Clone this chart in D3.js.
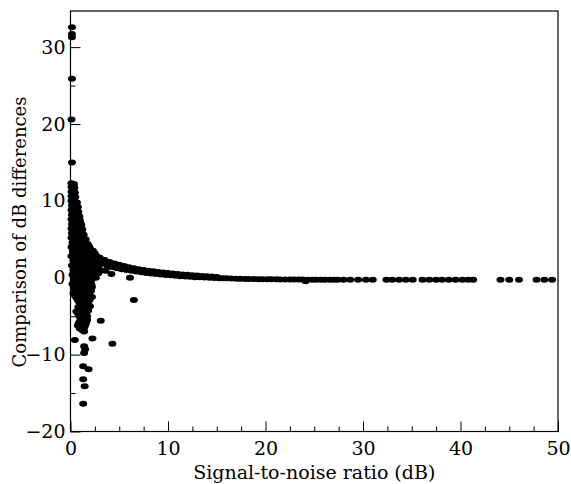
<!DOCTYPE html>
<html>
<head>
  <meta charset="utf-8">
  <title>dB differences vs SNR</title>
  <script src="https://d3js.org/d3.v7.min.js"></script>
  <style>
    body { margin: 0; background: #fff; }
    svg text { font-family: "DejaVu Serif", serif; fill: #000; }
    .axis line { stroke: #000; }
    .dot { fill: #000; }
  </style>
</head>
<body>
<script>
// values: [SNR (dB), difference (dB)]
var bandUpper = [[2.5,3.1],[3.0,2.6],[3.5,2.3],[4.0,2.05],[4.5,1.85],[5.0,1.7],[5.5,1.52],[6.0,1.38],
  [6.5,1.25],[7.0,1.12],[7.5,1.02],[8.0,0.92],[8.5,0.84],[9.0,0.76],[9.5,0.69],[10,0.62],[10.5,0.55],
  [11,0.49],[11.5,0.43],[12,0.38],[12.5,0.33],[13,0.28],[13.5,0.23],[14,0.19],[14.5,0.15],[15,0.11]];
var bandLower = [[2.75,2.2],[3.25,1.9],[3.75,1.6],[4.25,1.4],[4.75,1.25],[5.25,1.12],[5.75,1.0],[6.25,0.9],
  [6.75,0.8],[7.25,0.7],[7.75,0.62],[8.25,0.54],[8.75,0.48],[9.25,0.42],[9.75,0.36],[10.25,0.31],
  [10.75,0.26],[11.25,0.21],[11.75,0.16],[12.25,0.12],[12.75,0.08],[13.25,0.05],[13.75,0.02],
  [14.25,-0.01],[14.75,-0.04],[15.25,-0.06]];
var tail = [[15.6,-0.05],[16.0,-0.08],[16.5,-0.1],[17.0,-0.12],[17.4,-0.13],[17.9,-0.15],[18.3,-0.16],
  [18.8,-0.17],[19.3,-0.18],[19.7,-0.19],[20.2,-0.2],[20.6,-0.2],[21.1,-0.21],[21.5,-0.22],[22.0,-0.22],
  [22.5,-0.23],[22.9,-0.23],[23.4,-0.24],[23.8,-0.24],[24.1,-0.45],[24.3,-0.25],[24.8,-0.25],[25.2,-0.25],
  [25.7,-0.25],[26.1,-0.26],[26.6,-0.26],[27.0,-0.26],[27.4,-0.26],
  [28.0,-0.26],[28.7,-0.26],[29.5,-0.26],[30.3,-0.26],[31.0,-0.26],
  [32.4,-0.26],[33.0,-0.26],[33.7,-0.26],[34.4,-0.26],[35.1,-0.26],[36.1,-0.26],[36.8,-0.26],
  [37.5,-0.26],[38.1,-0.26],[38.8,-0.26],[39.5,-0.26],[40.2,-0.26],[40.8,-0.26],[41.3,-0.26],
  [44.1,-0.26],[45.0,-0.26],[46.0,-0.26],[47.8,-0.26],[48.6,-0.26],[49.4,-0.26]];
var cluster = [
  [0.1,12.3],[0.35,12.2],[0.1,11.8],[0.4,11.7],[0.1,11.2],[0.45,11.1],[0.1,10.6],[0.5,10.5],
  [0.1,10.0],[0.45,9.9],[0.65,9.8],[0.15,9.4],[0.5,9.3],[0.75,9.2],[0.1,8.8],[0.45,8.7],[0.8,8.6],
  [0.15,8.2],[0.5,8.1],[0.9,8.0],[0.1,7.6],[0.5,7.6],[0.95,7.5],
  [0.15,7.0],[0.5,7.0],[0.85,6.9],[1.1,6.9],[0.1,6.4],[0.5,6.4],[0.9,6.3],[1.2,6.3],
  [0.15,5.8],[0.55,5.8],[0.95,5.7],[1.35,5.6],[0.1,5.2],[0.5,5.2],[0.9,5.1],[1.3,5.1],[1.55,5.0],
  [0.2,4.6],[0.6,4.6],[1.0,4.5],[1.4,4.5],[1.75,4.4],
  [0.1,4.0],[0.5,4.0],[0.9,3.9],[1.3,3.9],[1.7,3.9],[2.0,3.8],
  [0.25,3.4],[0.6,3.4],[1.0,3.3],[1.4,3.3],[1.8,3.3],[2.2,3.3],[2.45,3.2],
  [0.1,2.8],[0.5,2.8],[0.9,2.7],[1.3,2.7],[1.7,2.7],[2.1,2.6],[2.5,2.6],[2.85,2.5],
  [0.3,2.2],[0.7,2.2],[1.1,2.1],[1.5,2.1],[1.9,2.1],[2.3,2.0],[2.7,1.9],
  [0.15,1.6],[0.55,1.6],[0.95,1.5],[1.35,1.5],[1.75,1.5],[2.15,1.4],[2.55,1.3],[2.9,1.3],
  [0.3,1.0],[0.7,1.0],[1.1,0.9],[1.5,0.9],[1.9,0.9],[2.3,0.8],[2.7,0.8],[3.1,0.9],
  [0.2,0.4],[0.6,0.4],[1.0,0.3],[1.4,0.3],[1.8,0.3],[2.2,0.4],[2.6,0.5],
  [0.35,-0.2],[0.75,-0.2],[1.15,-0.3],[1.55,-0.3],[1.95,-0.2],
  [0.2,-0.8],[0.6,-0.8],[1.0,-0.9],[1.4,-0.9],[1.8,-0.8],[2.15,-0.9],
  [0.4,-1.4],[0.8,-1.4],[1.2,-1.5],[1.6,-1.5],[2.0,-1.4],
  [0.3,-2.0],[0.7,-2.0],[1.1,-2.1],[1.5,-2.1],[1.9,-2.0],
  [0.6,-2.6],[1.0,-2.7],[1.4,-2.7],[1.8,-2.6],[2.2,-2.5],
  [0.9,-3.2],[1.3,-3.3],[1.7,-3.2],[0.8,-3.8],[1.2,-3.9],[1.6,-3.8],[2.0,-3.7],
  [0.6,-4.4],[1.0,-4.5],[1.4,-4.4],[1.8,-4.3],[0.9,-5.0],[1.3,-5.1],[1.7,-5.0],
  [1.0,-5.6],[1.4,-5.7],[1.7,-5.5],[0.75,-6.2],[1.15,-6.3],[1.5,-6.2],[1.2,-6.8]];
// second, shifted layer of the dense cluster
var clusterFill = [
  [0.3,12.0],[0.3,11.4],[0.3,10.8],[0.3,10.2],[0.3,9.6],[0.6,9.6],[0.3,9.0],[0.65,9.0],[0.3,8.4],
  [0.7,8.4],[0.3,7.8],[0.75,7.8],[0.3,7.3],[0.7,7.3],[1.0,7.2],[0.3,6.7],[0.7,6.7],[1.05,6.6],
  [0.3,6.1],[0.75,6.1],[1.15,6.0],[0.3,5.5],[0.75,5.5],[1.15,5.4],[0.35,4.9],[0.75,4.9],[1.15,4.8],
  [1.45,4.8],[0.35,4.3],[0.8,4.3],[1.2,4.2],[1.55,4.2],[1.9,4.1],[0.3,3.7],[0.75,3.7],[1.15,3.6],
  [1.55,3.6],[1.95,3.5],[2.3,3.5],[0.3,3.1],[0.75,3.1],[1.2,3.0],[1.6,3.0],[2.0,2.95],[2.35,2.9],
  [2.7,2.8],[0.5,2.5],[0.9,2.4],[1.3,2.4],[1.7,2.4],[2.1,2.3],[2.5,2.2],[0.35,1.9],[0.75,1.9],
  [1.15,1.8],[1.55,1.8],[1.95,1.8],[2.35,1.7],[0.5,1.3],[0.9,1.2],[1.3,1.2],[1.7,1.2],[2.1,1.1],
  [2.5,1.05],[0.45,0.7],[0.85,0.65],[1.25,0.6],[1.65,0.6],[2.05,0.6],[2.45,0.6],[2.85,0.6],
  [0.45,0.1],[0.85,0.05],[1.25,0.0],[1.65,0.0],[2.05,0.1],[2.4,0.1],[0.5,-0.5],[0.9,-0.55],
  [1.3,-0.6],[1.7,-0.5],[2.1,-0.5],[0.55,-1.1],[0.95,-1.15],[1.35,-1.2],[1.75,-1.15],[2.2,-1.2],
  [0.55,-1.7],[0.95,-1.75],[1.35,-1.8],[1.75,-1.75],[2.1,-1.7],[0.45,-2.3],[0.85,-2.35],[1.25,-2.4],
  [1.65,-2.4],[2.0,-2.3],[0.75,-2.9],[1.15,-3.0],[1.55,-3.0],[1.95,-2.9],[1.05,-3.55],[1.45,-3.55],
  [1.85,-3.5],[0.95,-4.1],[1.35,-4.15],[1.75,-4.1],[0.8,-4.7],[1.2,-4.8],[1.6,-4.7],[1.1,-5.3],
  [1.5,-5.35],[0.85,-5.9],[1.25,-6.0],[1.6,-5.9],[0.95,-6.6],[1.4,-6.5]];
var outliers = [[0.15,32.6],[0.15,31.7],[0.15,31.3],[0.15,25.9],[0.1,20.6],[0.15,15.0],
  [0.45,-8.1],[1.4,-7.0],[2.25,-7.9],[3.1,-5.6],[4.3,-8.6],[6.5,-2.9],[6.1,0.0],[4.2,0.5],
  [3.6,0.9],[2.6,0.0],[1.4,-8.9],[1.5,-9.3],[1.4,-9.8],[1.3,-11.5],[1.85,-11.9],[1.3,-13.2],
  [1.45,-14.1],[1.3,-16.4]];

var xMajor = [0, 10, 20, 30, 40, 50];
var yMajor = [-20, -10, 0, 10, 20, 30];

var W = 571, H = 484;
// plot box in pixels
var LEFT = 70.5, RIGHT = 558, TOP = 11, BOTTOM = 431.5;
var FONT = '19px';

var svg = d3.select('body').append('svg')
  .attr('width', W)
  .attr('height', H);

var xScale = d3.scaleLinear().domain([0, 50]).range([LEFT, RIGHT]);
var yScale = d3.scaleLinear().domain([-20, 34.7]).range([BOTTOM, TOP]);

// minor ticks (no labels) and major ticks, all pointing inwards
var xMinor = d3.range(0, 50.01, 2.5).filter(function(v) { return v % 10 !== 0; });
var yMinor = d3.range(-20, 34, 5).filter(function(v) { return v % 10 !== 0; });

svg.append('g')
  .attr('class', 'axis')
  .attr('transform', 'translate(0,' + BOTTOM + ')')
  .call(d3.axisBottom(xScale).tickValues(xMinor).tickSize(-5).tickFormat(''))
  .call(function(g) { g.select('.domain').remove(); });

svg.append('g')
  .attr('class', 'axis')
  .attr('transform', 'translate(0,' + BOTTOM + ')')
  .call(d3.axisBottom(xScale).tickValues(xMajor).tickSize(-10).tickPadding(10).tickFormat(d3.format('d')))
  .call(function(g) {
    g.select('.domain').remove();
    g.selectAll('text').style('font-size', FONT);
  });

svg.append('g')
  .attr('class', 'axis')
  .attr('transform', 'translate(' + LEFT + ',0)')
  .call(d3.axisLeft(yScale).tickValues(yMinor).tickSize(-5).tickFormat(''))
  .call(function(g) { g.select('.domain').remove(); });

svg.append('g')
  .attr('class', 'axis')
  .attr('transform', 'translate(' + LEFT + ',0)')
  .call(d3.axisLeft(yScale).tickValues(yMajor).tickSize(-10).tickPadding(5).tickFormat(d3.format('d')))
  .call(function(g) {
    g.select('.domain').remove();
    g.selectAll('text').style('font-size', FONT);
  });

// box round the plot
svg.append('rect')
  .attr('x', LEFT)
  .attr('y', TOP)
  .attr('width', RIGHT - LEFT)
  .attr('height', BOTTOM - TOP)
  .attr('fill', 'none')
  .attr('stroke', '#000')
  .attr('stroke-width', 1.2);

// all points, drawn as small flat ellipses
var points = [].concat(bandUpper, bandLower, tail, cluster, clusterFill, outliers);
svg.append('g')
  .selectAll('ellipse')
  .data(points)
  .enter()
  .append('ellipse')
  .attr('class', 'dot')
  .attr('cx', function(d) { return xScale(d[0]); })
  .attr('cy', function(d) { return yScale(d[1]); })
  .attr('rx', 4)
  .attr('ry', 3);

// axis titles
svg.append('text')
  .attr('x', (LEFT + RIGHT) / 2)
  .attr('y', 479)
  .attr('text-anchor', 'middle')
  .style('font-size', FONT)
  .text('Signal-to-noise ratio (dB)');

svg.append('text')
  .attr('transform', 'translate(26,232) rotate(-90)')
  .attr('text-anchor', 'middle')
  .style('font-size', '18px')
  .text('Comparison of dB differences');
</script>
</body>
</html>
